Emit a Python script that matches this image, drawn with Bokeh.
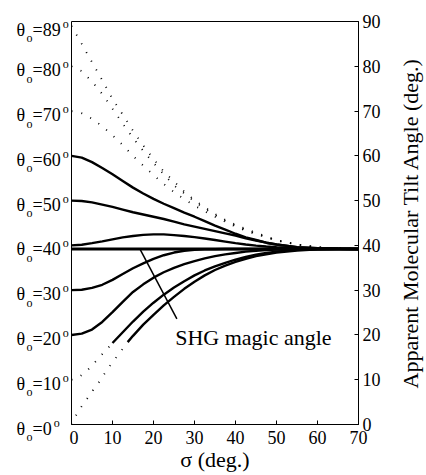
import math
from bokeh.plotting import figure
from bokeh.layouts import row
from bokeh.models import Range1d, FixedTicker, Label
from bokeh.core.properties import value
from bokeh.embed import file_html
from bokeh.resources import INLINE

FONT = "Liberation Serif"

# ---- data ----
sigma = [0, 2.5, 5, 7.5, 10, 12.5, 15, 17.5, 20, 22.5, 25, 27.5, 30, 32.5, 35,
         37.5, 40, 42.5, 45, 47.5, 50, 55, 60, 65, 70]

tilt_89 = [89.0, 85.0, 80.9, 76.9, 72.7, 69.2, 65.6, 62.3, 59.3, 56.5, 54.3, 52.0, 50.1,
           48.5, 47.0, 45.7, 44.6, 43.7, 42.8, 42.0, 41.2, 40.2, 39.6, 39.35, 39.25]
tilt_80 = [80.0, 78.9, 76.6, 73.8, 70.5, 67.2, 64.0, 61.1, 58.4, 55.9, 53.4, 51.6, 49.8,
           48.2, 46.8, 45.5, 44.4, 43.5, 42.6, 41.9, 41.1, 40.2, 39.6, 39.35, 39.25]
tilt_70 = [70.0, 69.5, 68.3, 66.6, 64.6, 62.4, 60.0, 57.8, 55.7, 53.7, 51.9, 50.3, 48.9,
           47.6, 46.4, 45.3, 44.2, 43.3, 42.5, 41.8, 41.1, 40.2, 39.6, 39.35, 39.25]
tilt_60 = [60.0, 59.6, 58.6, 57.3, 55.9, 54.4, 52.9, 51.6, 50.4, 49.3, 48.3, 47.3, 46.4,
           45.4, 44.4, 43.5, 42.6, 41.8, 41.2, 40.6, 40.2, 39.6, 39.35, 39.25, 39.2]
tilt_50 = [50.0, 49.9, 49.6, 49.1, 48.6, 48.0, 47.4, 46.9, 46.4, 45.9, 45.3, 44.7, 44.2,
           43.7, 43.2, 42.7, 42.2, 41.6, 41.1, 40.6, 40.2, 39.6, 39.35, 39.25, 39.2]
tilt_40 = [40.0, 40.15, 40.5, 40.9, 41.35, 41.8, 42.1, 42.35, 42.45, 42.45, 42.3, 42.1, 41.85,
           41.55, 41.2, 40.85, 40.5, 40.2, 39.95, 39.75, 39.6, 39.4, 39.3, 39.25, 39.2]
tilt_30 = [30.0, 30.1, 30.5, 31.2, 32.3, 33.6, 34.9, 36.0, 37.0, 37.8, 38.4, 38.8, 39.0,
           39.1, 39.15, 39.2, 39.2, 39.2, 39.2, 39.2, 39.2, 39.2, 39.2, 39.2, 39.2]
tilt_20 = [20.0, 20.3, 21.2, 22.9, 25.1, 27.4, 29.6, 31.3, 32.8, 34.0, 35.0, 35.8, 36.5,
           37.1, 37.6, 38.0, 38.3, 38.6, 38.8, 38.95, 39.05, 39.15, 39.2, 39.2, 39.2]

sigma_10_dot = [0, 2, 4, 6, 8, 10]
tilt_10_dot = [10.0, 10.7, 12.2, 14.2, 16.2, 18.2]
sigma_10_sol = [10, 12.5, 15, 17.5, 20, 22.5, 25, 27.5, 30, 32.5, 35, 37.5, 40, 42.5,
                45, 47.5, 50, 55, 60, 65, 70]
tilt_10_sol = [18.2, 20.6, 23.0, 25.2, 27.2, 29.0, 30.6, 32.0, 33.3, 34.4, 35.3, 36.1, 36.8,
               37.4, 37.9, 38.3, 38.6, 39.0, 39.15, 39.2, 39.2]

sigma_0_dot = [0, 1, 2.5, 4, 5.5, 7, 8.5, 10, 11.5, 12.5]
tilt_0_dot = [0.0, 1.9, 4.1, 6.0, 8.0, 9.8, 12.0, 13.9, 15.7, 16.9]
sigma_0_sol = [13.7, 15, 17.5, 20, 22.5, 25, 27.5, 30, 32.5, 35, 37.5, 40, 42.5, 45,
               47.5, 50, 55, 60, 65, 70]
tilt_0_sol = [18.4, 19.8, 22.3, 24.5, 26.6, 28.5, 30.3, 31.9, 33.3, 34.5, 35.5, 36.3, 37.0,
              37.6, 38.0, 38.4, 38.85, 39.1, 39.2, 39.2]

magic_sigma = [0, 70]
magic_tilt = [39.2, 39.2]

pointer_sigma = [16.8, 25.7]
pointer_tilt = [39.0, 23.6]

x_ticks = [0, 10, 20, 30, 40, 50, 60, 70]
y_ticks = [0, 10, 20, 30, 40, 50, 60, 70, 80, 90]
theta0_labels = [89, 80, 70, 60, 50, 40, 30, 20, 10, 0]

x_title = "σ (deg.)"
y_title = "Apparent Molecular Tilt Angle (deg.)"
note_text = "SHG magic angle"

# ---- layout constants (pixels) ----
W, H = 426, 475
FRAME_L, FRAME_R, FRAME_T, FRAME_B = 71, 358, 21, 424
LEFT_W = FRAME_L - 2
RIGHT_W = 34
MAIN_W = W - LEFT_W - RIGHT_W
Y0, Y1 = 0, 90
k = (Y1 - Y0) / (FRAME_B - FRAME_T)          # data units per pixel (vertical)
strip_range = (Y0 - (H - FRAME_B) * k, Y1 + FRAME_T * k)


def strip(width):
    f = figure(width=width, height=H, output_backend="svg", toolbar_location=None,
               x_range=Range1d(0, width), y_range=Range1d(*strip_range),
               x_axis_location=None, y_axis_location=None, min_border=0)
    f.frame_align = False
    f.outline_line_color = None
    f.background_fill_color = "white"
    f.border_fill_color = "white"
    f.xgrid.grid_line_color = None
    f.ygrid.grid_line_color = None
    return f


# ---- main figure ----
p = figure(width=MAIN_W, height=H, output_backend="svg", toolbar_location=None,
           x_range=Range1d(0, 70), y_range=Range1d(Y0, Y1),
           x_axis_location="below", y_axis_location="right",
           min_border_left=FRAME_L - LEFT_W, min_border_right=LEFT_W + MAIN_W - FRAME_R,
           min_border_top=FRAME_T, min_border_bottom=H - FRAME_B)
p.frame_align = False
p.background_fill_color = "white"
p.border_fill_color = "white"
p.outline_line_color = "black"
p.outline_line_width = 1
p.xgrid.grid_line_color = None
p.ygrid.grid_line_color = None

for ax, ticks in ((p.xaxis[0], x_ticks), (p.yaxis[0], y_ticks)):
    ax.ticker = FixedTicker(ticks=ticks)
    ax.major_tick_in = 4
    ax.major_tick_out = 0
    ax.minor_tick_line_color = None
    ax.axis_line_color = "black"
    ax.major_tick_line_color = "black"
    ax.major_label_text_font = FONT
    ax.major_label_text_font_size = "18px"
    ax.major_label_text_color = "black"

xa = p.xaxis[0]
xa.major_label_standoff = 6
xa.axis_label = x_title
xa.axis_label_standoff = 0
xa.axis_label_text_font = FONT
xa.axis_label_text_font_size = "22px"
xa.axis_label_text_font_style = "normal"
xa.axis_label_text_color = "black"

p.yaxis[0].major_label_standoff = 4

DOT = dict(line_color="black", line_width=1.8, line_dash="1 9")
SOLID = dict(line_color="black", line_width=2.4)

p.line(sigma, tilt_89, **DOT)
p.line(sigma, tilt_80, **DOT)
p.line(sigma, tilt_70, **DOT)
p.line(sigma, tilt_60, **SOLID)
p.line(sigma, tilt_50, **SOLID)
p.line(sigma, tilt_40, **SOLID)
p.line(magic_sigma, magic_tilt, line_color="black", line_width=3)
p.line(sigma, tilt_30, **SOLID)
p.line(sigma, tilt_20, **SOLID)
p.line(sigma_10_dot, tilt_10_dot, **DOT)
p.line(sigma_10_sol, tilt_10_sol, **SOLID)
p.line(sigma_0_dot, tilt_0_dot, **DOT)
p.line(sigma_0_sol, tilt_0_sol, **SOLID)
p.line(pointer_sigma, pointer_tilt, line_color="black", line_width=1.5)

p.add_layout(Label(x=25.3, y=19.5, text=note_text, text_font=FONT,
                   text_font_size="22px", text_align="left", text_baseline="middle",
                   text_color="black"))

# ---- left strip with the theta_o labels ----
lf = strip(LEFT_W)
lab_y = theta0_labels
eq_text = ["=" + str(v) for v in theta0_labels]
sup_x = [32 + 10.2 + 9 * len(str(v)) + 2 for v in theta0_labels]

lf.text(x=[16] * len(lab_y), y=lab_y, text=["θ"] * len(lab_y), y_offset=4,
        text_font=value(FONT), text_font_size="18px", text_align="left",
        text_baseline="middle", text_color="black")
lf.text(x=[26] * len(lab_y), y=lab_y, text=["o"] * len(lab_y), y_offset=12.5,
        text_font=value(FONT), text_font_size="12px", text_align="left",
        text_baseline="middle", text_color="black")
lf.text(x=[32] * len(lab_y), y=lab_y, text=eq_text, y_offset=4,
        text_font=value(FONT), text_font_size="18px", text_align="left",
        text_baseline="middle", text_color="black")
lf.text(x=sup_x, y=lab_y, text=["o"] * len(lab_y), y_offset=-2,
        text_font=value(FONT), text_font_size="12px", text_align="left",
        text_baseline="middle", text_color="black")

# ---- right strip with the vertical axis title ----
rf = strip(RIGHT_W)
rf.text(x=[18], y=[(Y0 + Y1) / 2], text=[y_title], angle=math.pi / 2,
        text_font=value(FONT), text_font_size="22px", text_align="center",
        text_baseline="middle", text_color="black")

layout = row(lf, p, rf)
open("out.html", "w").write(file_html(layout, INLINE))
